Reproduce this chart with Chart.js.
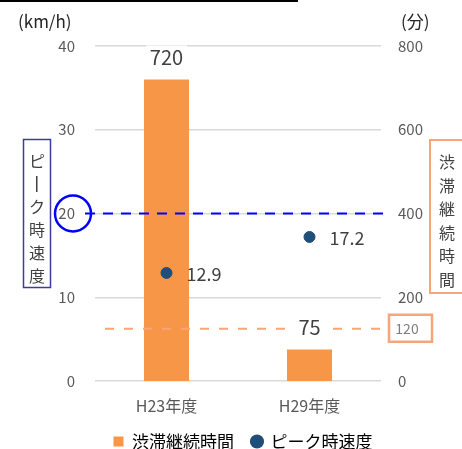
<!DOCTYPE html>
<html><head><meta charset="utf-8">
<script src="https://cdn.jsdelivr.net/npm/chart.js@4.4.1/dist/chart.umd.min.js"></script>
<style>html,body{margin:0;padding:0;background:#fff}#wrap{width:462px;height:449px;position:relative}</style>
</head><body><div id="wrap"><canvas id="c"></canvas></div>
<script>
const categories = ['H23年度', 'H29年度'];
const durationMinutes = [720, 75];
const peakSpeed = [12.9, 17.2];
const speedTicks = [0, 10, 20, 30, 40];
const minuteTicks = [0, 200, 400, 600, 800];
const speedReference = 20;
const minuteReference = 120;

const FONT = "'Noto Sans CJK JP','Noto Sans',sans-serif";
const ORANGE = '#F79646';
const NAVY = '#1F4E79';

const deco = {
  id: 'deco',
  afterDatasetsDraw(chart) {
    const ctx = chart.ctx;
    const y = chart.scales.y, y1 = chart.scales.y1;
    ctx.save();
    ctx.fillStyle = '#000';
    ctx.fillRect(0, 0, 298, 2);
    ctx.fillStyle = '#262626';
    ctx.font = '17px ' + FONT;
    ctx.textBaseline = 'middle';
    ctx.textAlign = 'left';
    ctx.fillText('(km/h)', 18, 22);
    ctx.fillText('(分)', 401, 22);
    const yb = y.getPixelForValue(speedReference);
    ctx.strokeStyle = '#0000FF';
    ctx.lineWidth = 2;
    ctx.setLineDash([10, 8]);
    ctx.beginPath(); ctx.moveTo(85, yb); ctx.lineTo(384, yb); ctx.stroke();
    ctx.setLineDash([]);
    ctx.lineWidth = 2.5;
    ctx.beginPath(); ctx.arc(73, yb, 18, 0, Math.PI * 2); ctx.stroke();
    const yo = y1.getPixelForValue(minuteReference) - 2;
    ctx.strokeStyle = '#F9A57A';
    ctx.lineWidth = 2;
    ctx.setLineDash([9, 10]);
    ctx.beginPath(); ctx.moveTo(105, yo); ctx.lineTo(388, yo); ctx.stroke();
    ctx.setLineDash([]);
    ctx.lineWidth = 2.5;
    ctx.strokeRect(389, yo - 14, 43, 27);
    ctx.fillStyle = '#7F7F7F';
    ctx.font = '14px ' + FONT;
    ctx.textAlign = 'center';
    ctx.fillText(String(minuteReference), 407, yo);
    ctx.strokeStyle = '#3C3CA0';
    ctx.lineWidth = 1.5;
    ctx.strokeRect(23.5, 139.5, 27, 148);
    ctx.fillStyle = '#404040';
    ctx.font = '16px ' + FONT;
    const lt = ['ピ', '|', 'ク', '時', '速', '度'];
    lt.forEach((ch, i) => {
      const cy = 161 + i * 23;
      if (ch === '|') { ctx.fillRect(36, cy - 8, 1.5, 16); }
      else ctx.fillText(ch, 37, cy);
    });
    ctx.strokeStyle = '#F9A57A';
    ctx.lineWidth = 2;
    ctx.strokeRect(430, 140, 40, 153);
    const rt = ['渋', '滞', '継', '続', '時', '間'];
    rt.forEach((ch, i) => ctx.fillText(ch, 447, 162 + i * 23.5));
    const bm = chart.getDatasetMeta(0);
    ctx.font = '20px ' + FONT;
    bm.data.forEach((el, i) => {
      const ty = el.y - 22;
      const txt = String(durationMinutes[i]);
      const w = ctx.measureText(txt).width;
      ctx.fillStyle = '#fff';
      ctx.fillRect(el.x - w / 2 - 4, ty - 12, w + 8, 24);
      ctx.fillStyle = '#404040';
      ctx.fillText(txt, el.x, ty);
    });
    const pm = chart.getDatasetMeta(1);
    ctx.textAlign = 'left';
    ctx.font = '18px ' + FONT;
    pm.data.forEach((el, i) => {
      ctx.fillText(peakSpeed[i].toFixed(1), el.x + 20, el.y + 1);
    });
    ctx.restore();
  }
};

new Chart(document.getElementById('c'), {
  data: {
    labels: categories,
    datasets: [
      { type: 'bar', label: '渋滞継続時間', data: durationMinutes, yAxisID: 'y1',
        backgroundColor: ORANGE, borderWidth: 0, barPercentage: 0.315, categoryPercentage: 1, order: 2 },
      { type: 'line', label: 'ピーク時速度', data: peakSpeed, yAxisID: 'y',
        showLine: false, pointRadius: 5.5, pointHoverRadius: 5.5, pointStyle: 'circle',
        backgroundColor: NAVY, borderColor: NAVY, order: 1 }
    ]
  },
  options: {
    responsive: true, maintainAspectRatio: false, animation: false,
    layout: { padding: { top: 46, left: 24, right: 0, bottom: 0 } },
    plugins: {
      tooltip: { enabled: false },
      legend: {
        position: 'bottom', maxHeight: 34,
        labels: {
          usePointStyle: true, boxWidth: 10, boxHeight: 10, padding: 18,
          color: '#404040', font: { size: 17, family: FONT },
          generateLabels(chart) {
            return chart.data.datasets.map((ds, i) => ({
              text: ds.label, fillStyle: i === 0 ? ORANGE : NAVY, strokeStyle: i === 0 ? ORANGE : NAVY,
              lineWidth: 0, pointStyle: i === 0 ? 'rect' : 'circle', datasetIndex: i, hidden: false
            }));
          }
        }
      }
    },
    scales: {
      x: {
        afterFit(s) { s.height = 34; },
        grid: { display: false, drawTicks: false }, border: { display: false },
        ticks: { color: '#595959', font: { size: 16, family: FONT }, padding: 15 }
      },
      y: {
        position: 'left', min: 0, max: 40,
        afterBuildTicks(s) { s.ticks = speedTicks.map(v => ({ value: v })); },
        afterFit(s) { s.width = 71; },
        grid: { color: '#D9D9D9', lineWidth: 1.5, drawTicks: false },
        border: { display: false },
        ticks: { color: '#595959', font: { size: 15, family: FONT }, padding: 20 }
      },
      y1: {
        position: 'right', min: 0, max: 800,
        afterBuildTicks(s) { s.ticks = minuteTicks.map(v => ({ value: v })); },
        afterFit(s) { s.width = 81; },
        grid: { display: false, drawTicks: false }, border: { display: false },
        ticks: { color: '#595959', font: { size: 15, family: FONT }, padding: 17 }
      }
    }
  },
  plugins: [deco]
});
</script></body></html>
